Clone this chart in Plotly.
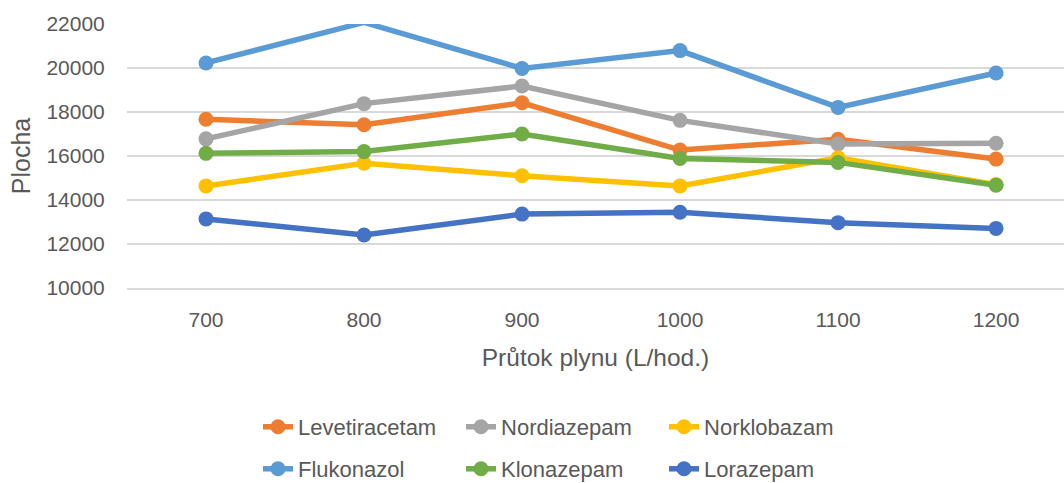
import plotly.graph_objects as go

categories = ["700", "800", "900", "1000", "1100", "1200"]

levetiracetam = [17670, 17420, 18420, 16270, 16760, 15860]
nordiazepam = [16780, 18380, 19180, 17620, 16550, 16580]
norklobazam = [14640, 15670, 15100, 14640, 15920, 14700]
flukonazol = [20230, 22070, 19980, 20790, 18210, 19770]
klonazepam = [16120, 16200, 17000, 15890, 15710, 14670]
lorazepam = [13140, 12410, 13360, 13440, 12970, 12710]

y_ticks = [10000, 12000, 14000, 16000, 18000, 20000, 22000]

series = [
    ("Levetiracetam", levetiracetam, "#ED7D31", "legend"),
    ("Nordiazepam", nordiazepam, "#A5A5A5", "legend"),
    ("Norklobazam", norklobazam, "#FFC000", "legend"),
    ("Flukonazol", flukonazol, "#5B9BD5", "legend2"),
    ("Klonazepam", klonazepam, "#70AD47", "legend2"),
    ("Lorazepam", lorazepam, "#4472C4", "legend2"),
]

FONT = "Liberation Sans"
TXT = "#595959"

fig = go.Figure()
for name, vals, color, lg in series:
    fig.add_trace(go.Scatter(
        x=categories, y=vals, name=name, mode="lines+markers",
        line=dict(color=color, width=5.5),
        marker=dict(color=color, size=15),
        cliponaxis=False, legend=lg,
    ))

legend_common = dict(
    orientation="h", xanchor="left", yanchor="middle",
    xref="container", yref="container",
    font=dict(family=FONT, size=22, color=TXT),
    entrywidth=158, bgcolor="rgba(0,0,0,0)", itemclick=False,
)

fig.update_layout(
    width=1064, height=483,
    margin=dict(l=127, r=0, t=24, b=195, autoexpand=False),
    paper_bgcolor="white", plot_bgcolor="white",
    font=dict(family=FONT, color=TXT),
    showlegend=True,
    legend=dict(x=0.2425, y=0.1160, **legend_common),
    legend2=dict(x=0.2425, y=0.0290, **legend_common),
    xaxis=dict(
        type="category", range=[-0.5, 5.43], automargin=False,
        showgrid=False, showline=True, linecolor="#D9D9D9", linewidth=1.5,
        ticks="outside", ticklen=12, tickcolor="rgba(0,0,0,0)",
        tickfont=dict(family=FONT, size=21, color=TXT),
        title=dict(text="Průtok plynu (L/hod.)", font=dict(family=FONT, size=24.5, color=TXT), standoff=19),
    ),
    yaxis=dict(
        range=[10000, 22000], tickvals=y_ticks, ticktext=[str(v) for v in y_ticks],
        automargin=False,
        showgrid=True, gridcolor="#D9D9D9", gridwidth=1.5, zeroline=False,
        ticks="outside", ticklen=17, tickcolor="rgba(0,0,0,0)",
        tickfont=dict(family=FONT, size=21, color=TXT),
        title=dict(text="Plocha", font=dict(family=FONT, size=25, color=TXT), standoff=8),
    ),
)

fig.write_html("out.html", config={"displayModeBar": False},
               post_script="document.body.style.margin='0';")
